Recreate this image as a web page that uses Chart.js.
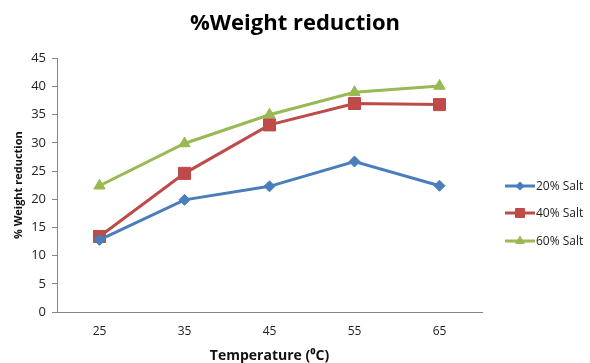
<!DOCTYPE html>
<html><head><meta charset="utf-8">
<script src="https://cdn.jsdelivr.net/npm/chart.js@4"></script>
<style>html,body{margin:0;padding:0;background:#fff;}#wrap{width:590px;height:363px;}</style>
</head><body>
<div id="wrap"><canvas id="c" width="590" height="363"></canvas></div>
<script>
const categories = ['25','35','45','55','65'];
const salt20 = [12.8, 19.9, 22.3, 26.7, 22.4];
const salt40 = [13.4, 24.6, 33.2, 37.0, 36.8];
const salt60 = [22.4, 29.9, 35.0, 39.0, 40.1];
const seriesNames = ['20% Salt','40% Salt','60% Salt'];
const colors = ['#4A7EBB','#BE4B48','#98B954'];
const markers = ['rectRot','rect','triangle'];
const FONT = "'Open Sans', 'Liberation Sans', sans-serif";

const legendPlugin = {
  id: 'customLegend',
  afterLayout(chart) {
    const t = chart.titleBlock;
    if (t) { t.left = 0; t.right = chart.width; t.width = chart.width; }
  },
  afterDraw(chart) {
    const ctx = chart.ctx;
    const x0 = 505, ys = [186, 213, 241];
    chart.data.datasets.forEach((ds, i) => {
      const y = ys[i];
      ctx.save();
      ctx.strokeStyle = ds.borderColor; ctx.lineWidth = 3;
      ctx.beginPath(); ctx.moveTo(x0, y); ctx.lineTo(x0 + 30, y); ctx.stroke();
      ctx.fillStyle = ds.borderColor; ctx.strokeStyle = ds.borderColor; ctx.lineWidth = 1;
      Chart.helpers.drawPoint(ctx, {pointStyle: ds.pointStyle, radius: ds.pointRadius * 0.75, borderWidth: 1}, x0 + 15, y);
      ctx.fillStyle = '#222';
      ctx.font = "12px " + FONT;
      ctx.textBaseline = 'middle';
      ctx.textAlign = 'left';
      ctx.fillText(ds.label, x0 + 31, y + 1);
      ctx.restore();
    });
  }
};

const seriesData = [salt20, salt40, salt60];
const radii = [5.5, 8.5, 6.5];
new Chart(document.getElementById('c'), {
  type: 'line',
  data: {
    labels: categories,
    datasets: seriesData.map((d, i) => ({
      label: seriesNames[i],
      data: d,
      borderColor: colors[i],
      backgroundColor: colors[i],
      borderWidth: 3,
      pointStyle: markers[i],
      pointRadius: radii[i],
      pointHoverRadius: radii[i],
      pointBorderWidth: 1,
      tension: 0
    }))
  },
  options: {
    responsive: false,
    animation: false,
    layout: { padding: { left: 0, right: 108, top: 0, bottom: 0 } },
    plugins: {
      legend: { display: false },
      tooltip: { enabled: false },
      title: {
        display: true,
        text: '%Weight reduction',
        color: '#000',
        font: { family: FONT, size: 22, weight: 'bold' },
        padding: { top: 11, bottom: 21 }
      }
    },
    scales: {
      x: {
        offset: true,
        grid: { display: true, drawOnChartArea: false, drawTicks: false, color: '#868686' },
        border: { display: true, color: '#868686', width: 1 },
        ticks: { color: '#222', font: { family: FONT, size: 12 }, padding: 12 },
        title: { display: true, text: 'Temperature (⁰C)', color: '#111', font: { family: FONT, size: 14, weight: 'bold' }, padding: { top: 5, bottom: -1 } },
        afterFit(s) { s.height = 51; }
      },
      y: {
        min: 0, max: 45,
        grid: { display: true, drawOnChartArea: false, drawTicks: true, tickLength: 5, color: '#868686' },
        border: { display: true, color: '#868686', width: 1 },
        ticks: { stepSize: 5, color: '#222', font: { family: FONT, size: 13 }, padding: 6 },
        title: { display: true, text: '% Weight reduction', color: '#111', font: { family: FONT, size: 11, weight: 'bold' }, padding: { top: 12, bottom: 0 } },
        afterFit(s) { s.width = 57; }
      }
    }
  },
  plugins: [legendPlugin]
});
</script>
</body></html>
